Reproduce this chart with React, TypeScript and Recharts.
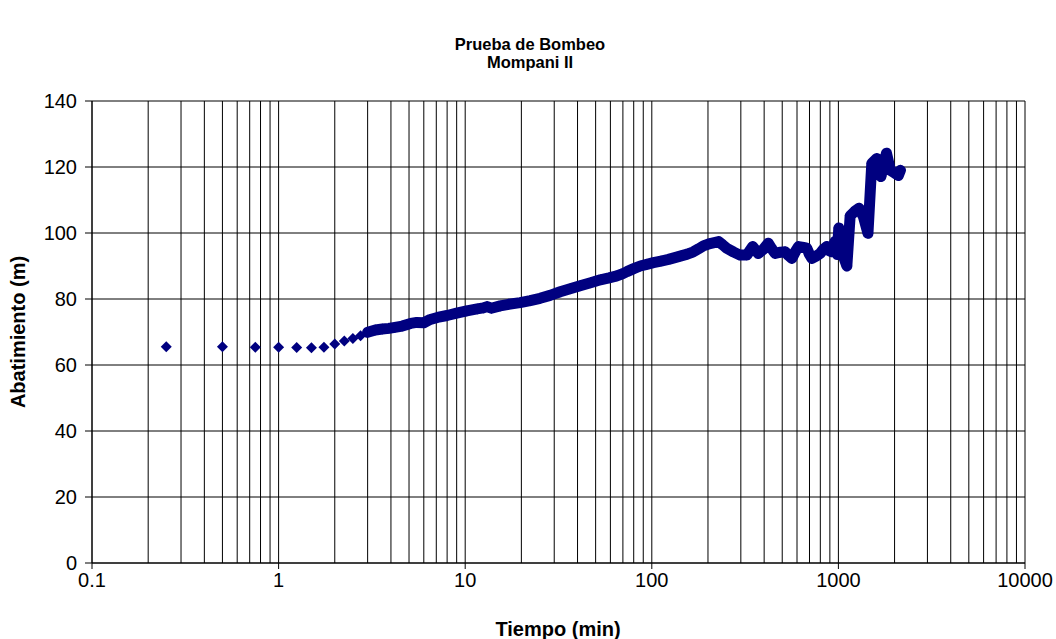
import React from 'react';
import {
  ScatterChart,
  Scatter,
  XAxis,
  YAxis,
  CartesianGrid,
  ReferenceLine
} from 'recharts';

// early readings (separate diamonds)
const earlyTimes = [0.25, 0.5, 0.75, 1, 1.25, 1.5, 1.75, 2.0, 2.25, 2.5, 2.75];
const earlyLevels = [65.5, 65.5, 65.4, 65.4, 65.3, 65.2, 65.4, 66.4, 67.3, 68.0, 68.9];

// later readings (dense, merge into a band)
const denseTimes = [
  3.0, 3.3, 3.6, 3.9, 4.2, 4.6, 5.1, 5.5, 6.0, 6.5, 7.1, 8.0, 9.0, 10.2, 11.6, 12.5,
  13.1, 13.8, 15.4, 17.1, 19.7, 22.3, 25.2, 28.5, 32.3, 36.5, 41.3, 47, 53, 59, 65, 70,
  73.6, 80, 86.7, 94, 102, 112, 123, 142, 155, 167, 178, 189, 205, 228, 240, 252, 275,
  297, 323, 347, 372, 395, 421, 440, 458, 490, 518, 540, 563, 590, 611, 650, 677, 700,
  721, 760, 798, 830, 867, 900, 922, 960, 985, 1005, 1040, 1070, 1110, 1156, 1220, 1290,
  1362, 1440, 1510, 1607, 1690, 1810, 1900, 2000, 2096, 2150
];
const denseLevels = [
  69.9, 70.6, 70.9, 71.1, 71.4, 71.8, 72.6, 72.9, 72.8, 73.8, 74.4, 75.0, 75.7, 76.4, 77.0, 77.3,
  77.7, 77.2, 77.9, 78.4, 78.9, 79.5, 80.2, 81.1, 82.2, 83.1, 84.0, 84.9, 85.8, 86.4, 87.0, 87.7,
  88.3, 89.2, 90.0, 90.5, 91.0, 91.5, 92.0, 93.0, 93.6, 94.3, 95.2, 96.1, 96.8, 97.4, 96.4, 95.4, 94.2,
  93.3, 93.3, 95.9, 93.8, 95.0, 96.9, 95.2, 93.8, 94.2, 94.3, 93.2, 92.3, 94.5, 95.9, 95.6, 95.4, 93.5,
  92.3, 93.0, 93.8, 95.0, 95.9, 94.5, 94.3, 97.5, 93.5, 101.5, 96.0, 92.5, 90.0, 105.2, 106.5, 107.5,
  104.9, 99.9, 121.1, 122.6, 117.1, 124.2, 119.0, 118.2, 117.4, 119.0
];

const xTicks = [0.1, 1, 10, 100, 1000, 10000];
const yTicks = [0, 20, 40, 60, 80, 100, 120, 140];

const NAVY = '#000080';
const FONT = '"Liberation Sans", Arial, sans-serif';

const earlyData = earlyTimes.map((t, i) => ({ t, v: earlyLevels[i] }));
const denseData = denseTimes.map((t, i) => ({ t, v: denseLevels[i] }));

// minor log gridlines 2..9 in each decade
const minorGrid: number[] = [];
xTicks.slice(0, -1).forEach((d) => {
  for (let k = 2; k <= 9; k++) minorGrid.push(+(d * k).toPrecision(3));
});

const Diamond = (props: any) => {
  const { cx, cy } = props;
  if (cx == null || cy == null) return null;
  const r = 5.5;
  return (
    <polygon
      points={`${cx},${cy - r} ${cx + r},${cy} ${cx},${cy + r} ${cx - r},${cy}`}
      fill={NAVY}
    />
  );
};

export default function App() {
  return (
    <div
      style={{
        position: 'absolute',
        left: 0,
        top: 0,
        width: 1056,
        height: 639,
        background: '#fff',
        fontFamily: FONT
      }}
    >
      <div
        style={{
          position: 'absolute',
          top: 35,
          left: 0,
          width: 1060,
          textAlign: 'center',
          fontWeight: 'bold',
          fontSize: 16.5,
          lineHeight: '18px'
        }}
      >
        Prueba de Bombeo
        <br />
        Mompani II
      </div>
      <div
        style={{
          position: 'absolute',
          left: 18,
          top: 332,
          transform: 'translate(-50%, -50%) rotate(-90deg)',
          whiteSpace: 'nowrap',
          fontWeight: 'bold',
          fontSize: 20
        }}
      >
        Abatimiento (m)
      </div>
      <div
        style={{
          position: 'absolute',
          left: 558,
          top: 629,
          transform: 'translate(-50%, -50%)',
          whiteSpace: 'nowrap',
          fontWeight: 'bold',
          fontSize: 20
        }}
      >
        Tiempo (min)
      </div>
      <ScatterChart
        width={1056}
        height={639}
        margin={{ top: 101, right: 31, bottom: 46, left: 0 }}
      >
        <CartesianGrid stroke="#000" strokeWidth={1} />
        {minorGrid.map((x) => (
          <ReferenceLine key={x} x={x} stroke="#000" strokeWidth={1} />
        ))}
        <XAxis
          type="number"
          dataKey="t"
          scale="log"
          domain={[0.1, 10000]}
          ticks={xTicks}
          interval={0}
          allowDataOverflow
          height={30}
          tickSize={6}
          tickMargin={4}
          tickFormatter={(v: number) => String(v)}
          axisLine={{ stroke: '#000' }}
          tickLine={{ stroke: '#000' }}
          tick={{ fill: '#000', fontSize: 20, fontFamily: FONT }}
        />
        <YAxis
          type="number"
          dataKey="v"
          domain={[0, 140]}
          ticks={yTicks}
          interval={0}
          width={92}
          tickSize={7}
          tickMargin={8}
          axisLine={{ stroke: '#000' }}
          tickLine={{ stroke: '#000' }}
          tick={{ fill: '#000', fontSize: 20, fontFamily: FONT }}
        />
        <Scatter
          data={earlyData}
          fill={NAVY}
          shape={Diamond}
          isAnimationActive={false}
        />
        <Scatter
          data={denseData}
          fill={NAVY}
          shape={Diamond}
          line={{ stroke: NAVY, strokeWidth: 11, strokeLinejoin: 'round', strokeLinecap: 'round' }}
          isAnimationActive={false}
        />
      </ScatterChart>
    </div>
  );
}
